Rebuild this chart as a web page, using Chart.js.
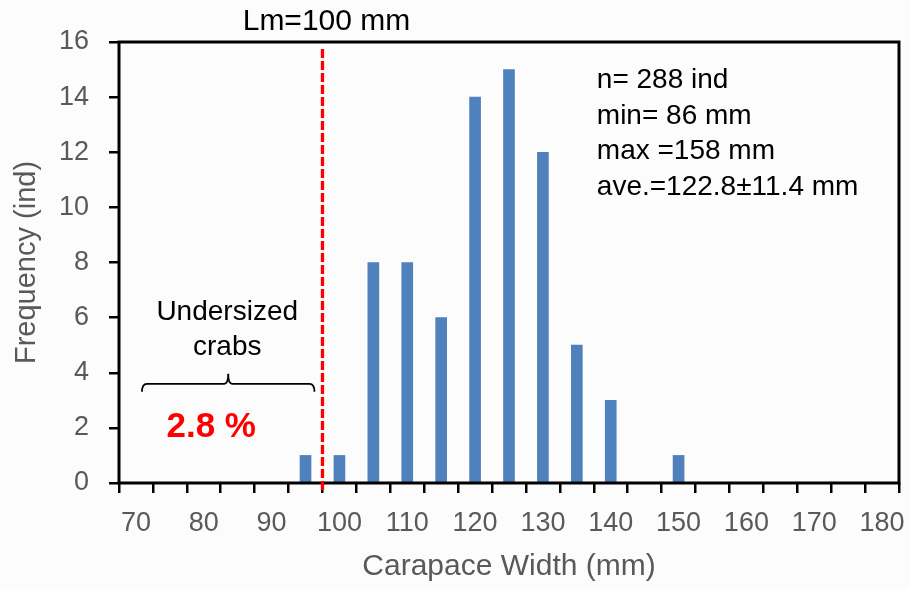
<!DOCTYPE html>
<html>
<head>
<meta charset="utf-8">
<script src="https://cdn.jsdelivr.net/npm/chart.js@4.4.1/dist/chart.umd.min.js"></script>
<style>
  html, body { margin: 0; padding: 0; background: #fcfcfc; }
  #wrap { width: 909px; height: 589px; position: relative; }
</style>
</head>
<body>
<div id="wrap"><canvas id="cwChart"></canvas></div>
<script>
// carapace width classes (mm) - category axis, labels shown every 10 mm
const widthClasses = ['70', '75', '80', '85', '90', '95', '100', '105', '110', '115', '120', '125',
    '130', '135', '140', '145', '150', '155', '160', '165', '170', '175', '180'];
// number of crabs per class
const frequency = [0, 0, 0, 0, 0, 1, 1, 8, 8, 6, 14, 15, 12, 5, 3, 0, 1, 0, 0, 0, 0, 0, 0];
const yTicks = [0, 2, 4, 6, 8, 10, 12, 14, 16];

const lmLabel = 'Lm=100 mm';
const lmClass = '100';
const statLines = ['n= 288 ind', 'min= 86 mm', 'max =158 mm', 'ave.=122.8±11.4 mm'];
const undersizedLines = ['Undersized', 'crabs'];
const undersizedPct = '2.8 %';

const FONT = '"Liberation Sans", Arial, sans-serif';
const GREY = '#595959';

// frame, Lm line and the text notes
const notesPlugin = {
    id: 'notes',
    afterDatasetsDraw(chart) {
        const { ctx, chartArea: a, scales: { x, y } } = chart;
        ctx.save();

        // plot frame
        ctx.strokeStyle = '#000';
        ctx.lineWidth = 3;
        ctx.strokeRect(a.left, a.top, a.right - a.left, a.bottom - a.top);

        // Lm dashed line, on the boundary just before the 100 class
        const li = widthClasses.indexOf(lmClass);
        const lx = (x.getPixelForValue(li - 1) + x.getPixelForValue(li)) / 2;
        ctx.strokeStyle = '#ff0000';
        ctx.lineWidth = 3.3;
        ctx.setLineDash([9, 3]);
        ctx.beginPath();
        ctx.moveTo(lx, a.top + 7);
        ctx.lineTo(lx, a.bottom + 7);
        ctx.stroke();
        ctx.setLineDash([]);

        ctx.fillStyle = '#000';
        ctx.font = '30px ' + FONT;
        ctx.textAlign = 'center';
        ctx.textBaseline = 'alphabetic';
        ctx.fillText(lmLabel, lx + 4, a.top - 12);

        // stats box
        ctx.textAlign = 'left';
        ctx.font = '28px ' + FONT;
        const sx = x.getPixelForValue(13) + 20;
        statLines.forEach((t, i) => ctx.fillText(t, sx, a.top + 46 + i * 35.5));

        // undersized note
        const bx1 = x.getPixelForValue(0) + 6;
        const bx2 = lx - 8;
        const bm = (bx1 + bx2) / 2;
        const by = y.getPixelForValue(3.6);
        ctx.textAlign = 'center';
        ctx.font = '28px ' + FONT;
        ctx.fillText(undersizedLines[0], bm - 1, by - 64);
        ctx.fillText(undersizedLines[1], bm - 1, by - 29);

        ctx.strokeStyle = '#000';
        ctx.lineWidth = 1.8;
        ctx.beginPath();
        ctx.moveTo(bx1, by + 8);
        ctx.quadraticCurveTo(bx1, by, bx1 + 5, by);
        ctx.lineTo(bm - 4, by);
        ctx.quadraticCurveTo(bm, by, bm, by - 10);
        ctx.quadraticCurveTo(bm, by, bm + 4, by);
        ctx.lineTo(bx2 - 5, by);
        ctx.quadraticCurveTo(bx2, by, bx2, by + 8);
        ctx.stroke();

        ctx.fillStyle = '#ff0000';
        ctx.font = 'bold 35px ' + FONT;
        ctx.fillText(undersizedPct, bm - 17, by + 53);

        ctx.restore();
    }
};

new Chart(document.getElementById('cwChart'), {
    type: 'bar',
    data: {
        labels: widthClasses,
        datasets: [{
            data: frequency,
            backgroundColor: '#4f81bd',
            barThickness: 11
        }]
    },
    options: {
        responsive: true,
        maintainAspectRatio: false,
        animation: false,
        layout: { padding: { top: 42, right: 10, left: 0, bottom: 0 } },
        plugins: { legend: { display: false }, tooltip: { enabled: false } },
        scales: {
            x: {
                offset: true,
                grid: { offset: true, drawOnChartArea: false, drawTicks: true, tickLength: 10, tickColor: '#000', lineWidth: 2.5 },
                border: { display: false },
                ticks: {
                    autoSkip: false, maxRotation: 0, color: GREY, padding: 14,
                    font: { family: FONT, size: 27 },
                    callback: (v, i) => (i % 2 === 0 ? widthClasses[i] : '')
                },
                title: { display: true, text: 'Carapace Width (mm)', color: GREY, font: { family: FONT, size: 30 }, padding: { top: 8 } },
                afterFit: s => { s.height = 106; s.paddingLeft = 0; s.paddingRight = 0; }
            },
            y: {
                min: 0, max: 16,
                afterBuildTicks: s => { s.ticks = yTicks.map(v => ({ value: v })); },
                grid: { drawOnChartArea: false, drawTicks: true, tickLength: 10, tickColor: '#000', lineWidth: 2.5 },
                border: { display: false },
                ticks: { color: GREY, padding: 20, font: { family: FONT, size: 27 } },
                title: { display: true, text: 'Frequency (ind)', color: GREY, font: { family: FONT, size: 29 }, padding: { top: 10, bottom: 4 } },
                afterFit: s => { s.width = 119; }
            }
        }
    },
    plugins: [notesPlugin]
});
</script>
</body>
</html>
